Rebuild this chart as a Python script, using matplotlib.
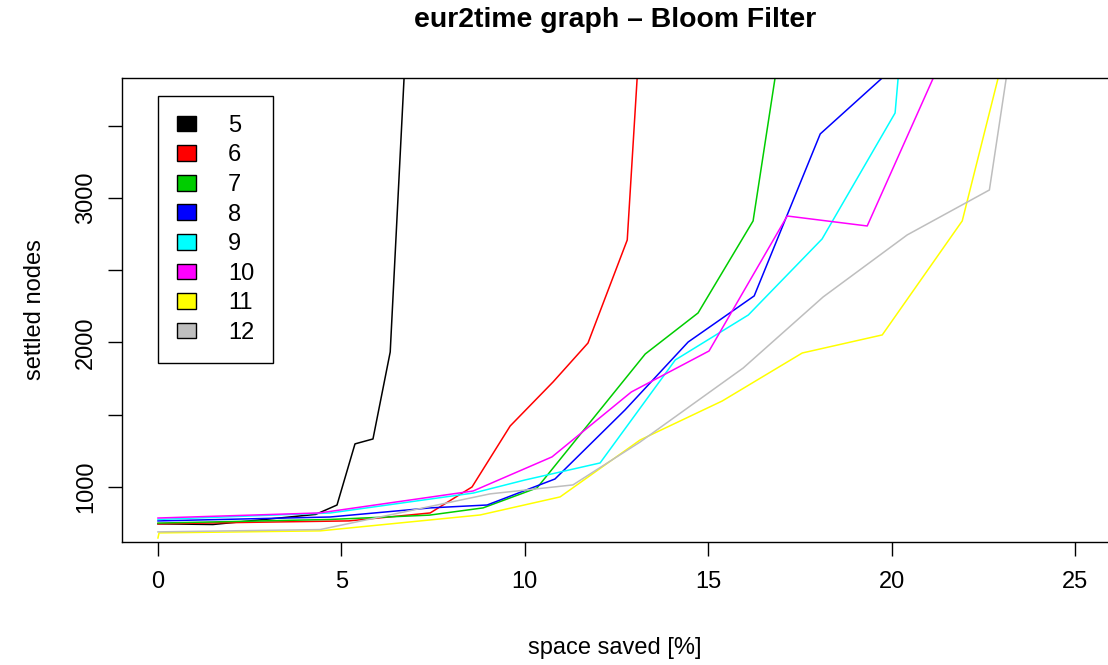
import matplotlib
matplotlib.use('Agg')
import matplotlib.pyplot as plt
from matplotlib.patches import Patch

plt.rcParams['font.family'] = ['Liberation Sans', 'DejaVu Sans']

# filter sizes (legend) and their colours
sizes = ['5', '6', '7', '8', '9', '10', '11', '12']
colors = ['#000000', '#FF0000', '#00CD00', '#0000FF', '#00FFFF', '#FF00FF', '#FFFF00', '#BEBEBE']

# space saved [%] vs settled nodes, one pair per filter size
x5 = [0, 1.5, 4.3, 4.88, 5.37, 5.86, 6.33, 7.0]
y5 = [745, 740, 810, 875, 1298, 1332, 1934, 5300]

x6 = [0, 2.5, 5.2, 7.42, 8.56, 9.6, 10.77, 11.72, 12.79, 13.2]
y6 = [745, 755, 765, 820, 1000, 1422, 1727, 1996, 2709, 4410]

x7 = [0, 4.7, 7.4, 8.86, 10.33, 13.28, 14.72, 16.22, 17.0]
y7 = [750, 775, 805, 855, 993, 1920, 2204, 2841, 4130]

x8 = [0, 4.69, 7.42, 8.97, 10.82, 12.73, 14.45, 16.25, 18.05, 20.0]
y8 = [765, 792, 855, 875, 1055, 1533, 2003, 2322, 3443, 3890]

x9 = [0, 4.7, 8.6, 10.0, 12.05, 14.1, 16.09, 18.1, 20.09, 20.3]
y9 = [775, 820, 958, 1048, 1166, 1879, 2190, 2716, 3588, 4200]

x10 = [0, 4.4, 8.59, 10.74, 12.9, 15.02, 17.15, 19.33, 21.5]
y10 = [785, 820, 972, 1208, 1657, 1941, 2875, 2806, 4040]

x11 = [0, 0.03, 4.42, 8.78, 10.96, 13.14, 15.38, 17.56, 19.74, 21.92, 23.2]
y11 = [647, 682, 696, 806, 931, 1325, 1595, 1927, 2052, 2841, 4135]

x12 = [0, 4.42, 9.05, 11.31, 13.14, 15.95, 18.13, 20.42, 22.66, 23.5]
y12 = [689, 705, 952, 1014, 1311, 1823, 2315, 2744, 3055, 4470]

xs = [x5, x6, x7, x8, x9, x10, x11, x12]
ys = [y5, y6, y7, y8, y9, y10, y11, y12]

xticks = [0, 5, 10, 15, 20, 25]
yticks = [1000, 1500, 2000, 2500, 3000, 3500]
ytick_labels = ['1000', '', '2000', '', '3000', '']

fs = 17
fig = plt.figure(figsize=(11.08, 6.65), dpi=100)
ax = fig.add_axes([122/1108, 1-542/665, 987/1108, 464/665])

for x, y, c in zip(xs, ys, colors):
    ax.plot(x, y, color=c, lw=1.1)

ax.set_xlim(-0.98, 25.92)
ax.set_ylim(619, 3830)
ax.set_xticks(xticks)
ax.set_xticklabels([str(t) for t in xticks])
ax.set_yticks(yticks)
ax.set_yticklabels(ytick_labels)
ax.tick_params(axis='both', length=10, width=1, labelsize=fs, colors='black')
ax.tick_params(axis='x', pad=11)
ax.tick_params(axis='y', pad=8)
plt.setp(ax.get_yticklabels(), rotation=90, va='center')
for s in ax.spines.values():
    s.set_linewidth(1)

handles = [Patch(facecolor=c, edgecolor='black', linewidth=1) for c in colors]
leg = ax.legend(handles, sizes, loc='upper left', bbox_to_anchor=(36/987, 1-18/464),
                fontsize=fs, frameon=True, fancybox=False, framealpha=1,
                edgecolor='black', handlelength=0.8, handleheight=0.64,
                handletextpad=1.36, borderpad=0.8, labelspacing=0.32,
                borderaxespad=0)
leg.get_frame().set_linewidth(1)

fig.text(615/1108, 1-20/665, 'eur2time graph \u2013 Bloom Filter', ha='center', va='center',
         fontsize=fs*1.2, fontweight='bold')
fig.text(615/1108, 1-648/665, 'space saved [%]', ha='center', va='center', fontsize=fs)
fig.text(35/1108, 1-310/665, 'settled nodes', ha='center', va='center', fontsize=fs,
         rotation=90)

fig.savefig('out.png', dpi=100)
